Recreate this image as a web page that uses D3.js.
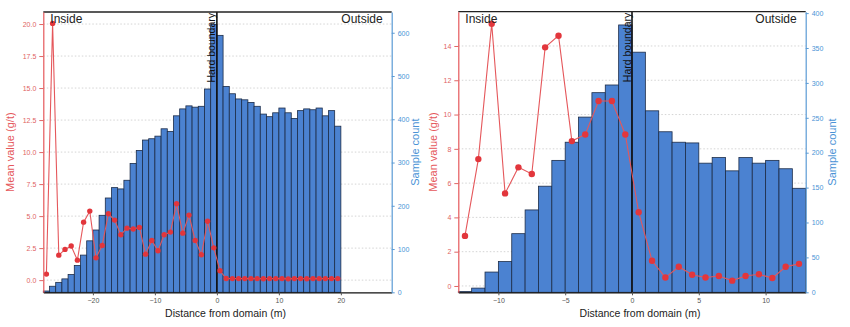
<!DOCTYPE html>
<html>
<head>
<meta charset="utf-8">
<script src="https://cdn.jsdelivr.net/npm/d3@7"></script>
<style>
  body { margin: 0; background: #fff; }
  svg { display: block; font-family: "Liberation Sans", Arial, sans-serif; }
</style>
</head>
<body>
<div id="chart"></div>
<script>
// left panel: 1 m bins (left edge), sample counts and mean grade per bin
var binsA = [-28, -27, -26, -25, -24, -23, -22, -21, -20, -19, -18, -17, -16, -15, -14, -13,
             -12, -11, -10, -9, -8, -7, -6, -5, -4, -3, -2, -1, 0, 1, 2, 3, 4, 5, 6, 7, 8, 9,
             10, 11, 12, 13, 14, 15, 16, 17, 18, 19];
var countsA = [3, 14, 23, 31, 41, 62, 86, 119, 144, 178, 218, 242, 239, 259, 298, 328,
               352, 355, 361, 378, 372, 408, 424, 431, 428, 430, 470, 619, 594, 476, 459, 447, 445, 439, 430, 412, 406, 415,
               426, 415, 402, 420, 424, 422, 426, 408, 420, 384];
var meansA = [0.47, 20.05, 1.95, 2.40, 2.66, 1.56, 4.53, 5.39, 1.74, 2.71, 5.18, 4.69, 3.54, 4.06, 3.99, 4.12,
              2.03, 3.10, 2.29, 3.54, 3.75, 5.96, 3.67, 5.08, 3.10, 1.98, 4.60, 2.52, 0.73, 0.13, 0.12, 0.12, 0.12, 0.12, 0.12, 0.11, 0.12, 0.12,
              0.12, 0.10, 0.12, 0.12, 0.11, 0.12, 0.12, 0.12, 0.12, 0.12];
var meanTicksA = [0, 2.5, 5, 7.5, 10, 12.5, 15, 17.5, 20];
var countTicksA = [0, 100, 200, 300, 400, 500, 600];
var distTicksA = [-20, -10, 0, 10, 20];

// right panel
var binsB = [-13, -12, -11, -10, -9, -8, -7, -6, -5, -4, -3, -2, -1,
             0, 1, 2, 3, 4, 5, 6, 7, 8, 9, 10, 11, 12];
var countsB = [1, 6, 29, 44, 84, 118, 152, 189, 215, 251, 286, 297, 383,
               344, 260, 230, 215, 214, 185, 193, 174, 193, 185, 189, 177, 149];
var meansB = [2.92, 7.40, 15.30, 5.40, 6.92, 6.53, 13.92, 14.60, 8.45, 8.84, 10.79, 10.79, 8.84,
              4.30, 1.47, 0.49, 1.12, 0.65, 0.49, 0.58, 0.31, 0.58, 0.68, 0.46, 1.12, 1.29];
var meanTicksB = [0, 2, 4, 6, 8, 10, 12, 14];
var countTicksB = [0, 50, 100, 150, 200, 250, 300, 350, 400];
var distTicksB = [-10, -5, 0, 5, 10];

var RED = "#e5575b", RED_TXT = "#e06464", BLUE = "#5b9bd5", BLUE_TXT = "#4b93d6";
var BAR = "#4b82d1", BAR_EDGE = "#1c2c48";

var svg = d3.select("#chart").append("svg")
  .attr("width", 850)
  .attr("height", 327);

svg.append("rect").attr("width", 850).attr("height", 327).attr("fill", "#fff");

function panel(p) {
  var x = d3.scaleLinear().domain(p.xDomain).range([p.left, p.right]);
  var yMean = d3.scaleLinear().domain(p.meanDomain).range([p.bottom, p.top]);
  var yCount = d3.scaleLinear().domain(p.countDomain).range([p.bottom, p.top]);
  var g = svg.append("g");

  // dotted grid on the grade axis
  g.append("g").selectAll("line")
    .data(p.meanTicks)
    .join("line")
      .attr("x1", p.left).attr("x2", p.right)
      .attr("y1", function(d) { return yMean(d); })
      .attr("y2", function(d) { return yMean(d); })
      .attr("stroke", "#c9c9c9")
      .attr("stroke-width", 0.8)
      .attr("stroke-dasharray", "1.5,2");

  // histogram of sample counts
  g.append("g").selectAll("rect")
    .data(p.bins)
    .join("rect")
      .attr("x", function(d) { return x(d); })
      .attr("width", function(d) { return x(d + 1) - x(d); })
      .attr("y", function(d, i) { return yCount(p.counts[i]); })
      .attr("height", function(d, i) { return yCount(0) - yCount(p.counts[i]); })
      .attr("fill", BAR)
      .attr("stroke", BAR_EDGE)
      .attr("stroke-width", 0.8);

  // hard boundary
  g.append("line")
    .attr("x1", x(0)).attr("x2", x(0))
    .attr("y1", p.top).attr("y2", p.bottom)
    .attr("stroke", "#111")
    .attr("stroke-width", 1.6);

  // mean grade per bin, plotted at bin centres
  var pts = p.bins.map(function(b, i) { return [b + 0.5, p.means[i]]; });
  g.append("path")
    .datum(pts)
    .attr("fill", "none")
    .attr("stroke", RED)
    .attr("stroke-width", 1.1)
    .attr("d", d3.line()
      .x(function(d) { return x(d[0]); })
      .y(function(d) { return yMean(d[1]); }));
  g.append("g").selectAll("circle")
    .data(pts)
    .join("circle")
      .attr("cx", function(d) { return x(d[0]); })
      .attr("cy", function(d) { return yMean(d[1]); })
      .attr("r", p.dot)
      .attr("fill", "#e2363c");

  // top spine
  g.append("line")
    .attr("x1", p.left).attr("x2", p.right)
    .attr("y1", p.top).attr("y2", p.top)
    .attr("stroke", "#222").attr("stroke-width", 1.3);

  var ax = g.append("g")
    .attr("transform", "translate(0," + p.bottom + ")")
    .call(d3.axisBottom(x).tickValues(p.distTicks).tickSize(3).tickSizeOuter(0).tickPadding(3));
  ax.select(".domain").attr("stroke", "#111").attr("stroke-width", 1.3);
  ax.selectAll(".tick line").attr("stroke", "#555");
  ax.selectAll("text").attr("fill", "#555").style("font-size", "7px");

  var al = g.append("g")
    .attr("transform", "translate(" + p.left + ",0)")
    .call(d3.axisLeft(yMean).tickValues(p.meanTicks).tickFormat(d3.format(p.meanFmt))
      .tickSize(4).tickSizeOuter(0).tickPadding(3));
  al.select(".domain").attr("stroke", RED).attr("stroke-width", 1.2);
  al.selectAll(".tick line").attr("stroke", RED_TXT);
  al.selectAll("text").attr("fill", RED_TXT).style("font-size", "7px");

  var ar = g.append("g")
    .attr("transform", "translate(" + p.right + ",0)")
    .call(d3.axisRight(yCount).tickValues(p.countTicks).tickSize(3).tickSizeOuter(0).tickPadding(3));
  ar.select(".domain").attr("stroke", BLUE).attr("stroke-width", 1.2);
  ar.selectAll(".tick line").attr("stroke", BLUE);
  ar.selectAll("text").attr("fill", BLUE_TXT).style("font-size", "7px");

  var mid = (p.top + p.bottom) / 2;
  g.append("text")
    .attr("transform", "translate(" + p.meanTitleX + "," + mid + ") rotate(-90)")
    .attr("text-anchor", "middle")
    .attr("fill", RED)
    .style("font-size", "11px")
    .text("Mean value (g/t)");
  g.append("text")
    .attr("transform", "translate(" + p.countTitleX + "," + mid + ") rotate(-90)")
    .attr("text-anchor", "middle")
    .attr("fill", BLUE_TXT)
    .style("font-size", "11px")
    .text("Sample count");
  g.append("text")
    .attr("x", (p.left + p.right) / 2 + 8)
    .attr("y", 317)
    .attr("text-anchor", "middle")
    .attr("fill", "#222")
    .style("font-size", "10.5px")
    .text("Distance from domain (m)");

  g.append("text")
    .attr("x", p.left + 7).attr("y", p.top + 11)
    .attr("fill", "#222").style("font-size", "12px")
    .text("Inside");
  g.append("text")
    .attr("x", p.right - 9).attr("y", p.top + 11)
    .attr("text-anchor", "end")
    .attr("fill", "#222").style("font-size", "12px")
    .text("Outside");
  g.append("text")
    .attr("transform", "translate(" + (x(0) - 1.5) + "," + (p.top + 1) + ") rotate(-90)")
    .attr("text-anchor", "end")
    .attr("fill", "#111")
    .style("font-size", "10.5px")
    .text("Hard boundary");
}

panel({
  left: 43.3, right: 391.7, top: 12, bottom: 292.3,
  xDomain: [-28, 28.2], meanDomain: [-0.95, 20.94], countDomain: [0, 648],
  bins: binsA, counts: countsA, means: meansA,
  meanTicks: meanTicksA, meanFmt: ".1f", countTicks: countTicksA, distTicks: distTicksA,
  dot: 2.7, meanTitleX: 14, countTitleX: 418.5
});

panel({
  left: 458.3, right: 805.7, top: 11.7, bottom: 292.3,
  xDomain: [-13, 13], meanDomain: [-0.37, 16.0], countDomain: [0, 402],
  bins: binsB, counts: countsB, means: meansB,
  meanTicks: meanTicksB, meanFmt: "d", countTicks: countTicksB, distTicks: distTicksB,
  dot: 3.2, meanTitleX: 437, countTitleX: 836
});
</script>
</body>
</html>
